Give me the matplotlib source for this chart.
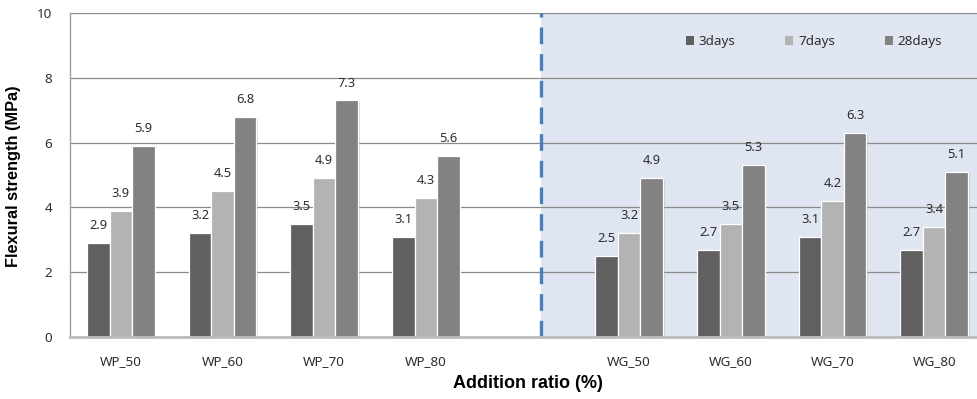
import matplotlib
matplotlib.use("Agg")
import matplotlib.pyplot as plt
import matplotlib.patheffects as pe
from matplotlib.patches import Patch
import numpy as np

# Flexural strength by addition ratio and curing age
categories = ["WP_50", "WP_60", "WP_70", "WP_80", "", "WG_50", "WG_60", "WG_70", "WG_80"]
series_names = ["3days", "7days", "28days"]
days3 = [2.9, 3.2, 3.5, 3.1, None, 2.5, 2.7, 3.1, 2.7]
days7 = [3.9, 4.5, 4.9, 4.3, None, 3.2, 3.5, 4.2, 3.4]
days28 = [5.9, 6.8, 7.3, 5.6, None, 4.9, 5.3, 6.3, 5.1]
yticks = [0, 2, 4, 6, 8, 10]

colors = ["#606060", "#b3b3b3", "#828282"]
shade_color = "#dfe6f1"
divider_color = "#4a7ebb"
text_color = "#2e2e2e"

font = ["Noto Sans", "DejaVu Sans"]
bold_font = ["Liberation Sans", "DejaVu Sans"]
plt.rcParams["font.family"] = font

fig = plt.figure(figsize=(9.78, 3.99), dpi=100)
ax = fig.add_axes([70 / 978, 62 / 399, 915 / 978, 324 / 399])

x = np.arange(len(categories))
step = 0.221
width = 0.221

ax.set_xlim(-0.5, len(categories) - 0.5)
ax.set_ylim(0, 10)

# shaded WG region and divider
divider_x = 4.13
ax.axvspan(divider_x, len(categories) - 0.5, color=shade_color, zorder=0, lw=0)
ax.axvline(divider_x, color=divider_color, lw=2.4, linestyle=(0, (5, 3)), zorder=3)

# horizontal gridlines
for t in yticks[1:]:
    ax.axhline(t, color="#8a8a8a", lw=0.9, zorder=1)

shadow = [pe.SimplePatchShadow(offset=(1.2, -1.0), shadow_rgbFace="#999999", alpha=0.35), pe.Normal()]

for i, (vals, col) in enumerate(zip([days3, days7, days28], colors)):
    offset = (i - 1) * step
    for xi, v in zip(x, vals):
        if v is None:
            continue
        b = ax.bar(xi + offset, v, width=width, color=col, edgecolor="white",
                   linewidth=0.9, zorder=2)
        b[0].set_path_effects(shadow)
        ax.annotate(f"{v:.1f}", (xi + offset, v), xytext=(0, 12.5),
                    textcoords="offset points", ha="center", va="center",
                    fontsize=9.3, color=text_color, zorder=4)

# axes styling
for side in ["right", "top"]:
    ax.spines[side].set_visible(False)
ax.spines["left"].set_color("#a0a0a0")
ax.spines["left"].set_linewidth(1.0)
ax.spines["bottom"].set_color("#bbbbbb")
ax.spines["bottom"].set_linewidth(2.0)
ax.spines["bottom"].set_zorder(5)

tick_pos = [i for i, c in enumerate(categories) if c]
ax.set_xticks(tick_pos)
ax.set_xticklabels([categories[i] for i in tick_pos])
ax.set_yticks(yticks)
ax.set_yticklabels([str(t) for t in yticks])
ax.tick_params(axis="both", length=0, labelsize=9.7, colors=text_color)
ax.tick_params(axis="x", pad=13)
ax.tick_params(axis="y", pad=13)

ax.set_xlabel("Addition ratio (%)", fontsize=13, fontweight="bold",
              family=bold_font, color="black")
ax.set_ylabel("Flexural strength (MPa)", fontsize=11.8, fontweight="bold",
              family=bold_font, color="black")
ax.xaxis.set_label_coords((528 - 70) / 915, (337 - 375) / 324)
ax.yaxis.set_label_coords((21 - 70) / 915, (337 - 176) / 324)

handles = [Patch(facecolor=c, edgecolor="none") for c in colors]
leg = ax.legend(handles, series_names, loc="center left",
                bbox_to_anchor=(686 / 978, 1 - 42 / 399), bbox_transform=fig.transFigure,
                ncol=3, frameon=False, fontsize=9.7, handlelength=0.6, handleheight=0.6,
                handletextpad=0.35, columnspacing=3.7, borderpad=0, borderaxespad=0)
for t in leg.get_texts():
    t.set_color(text_color)

fig.savefig("out.png", dpi=100)
